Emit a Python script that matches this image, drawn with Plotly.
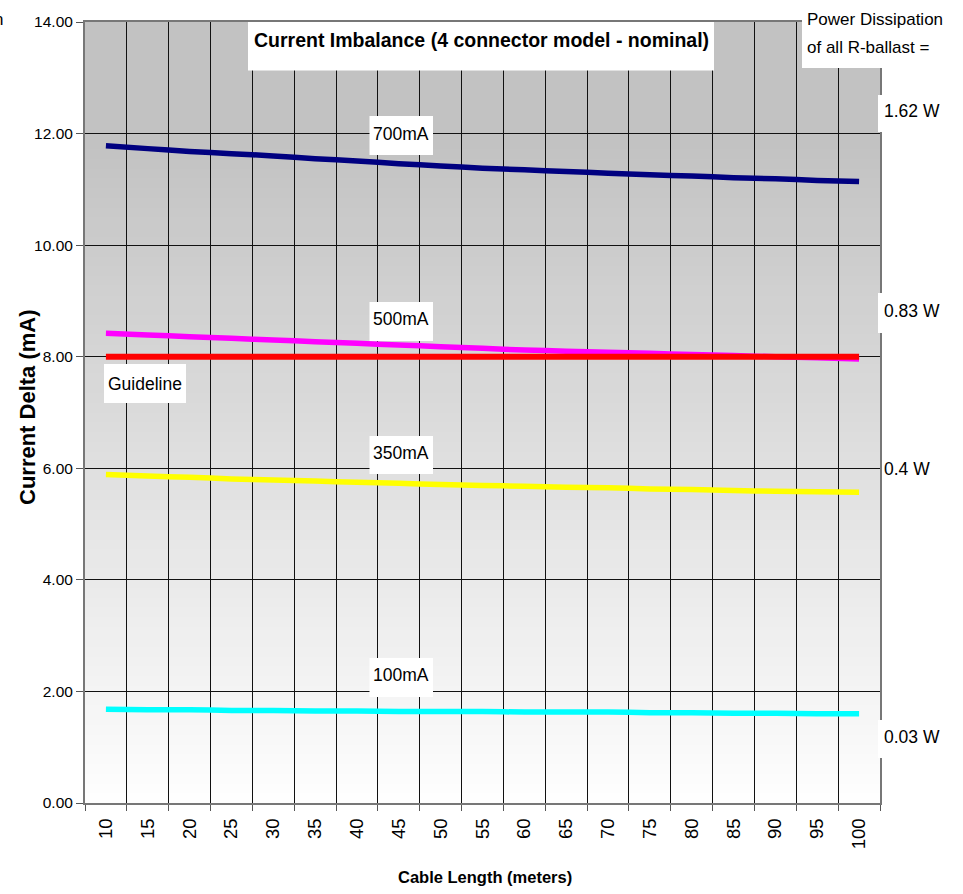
import plotly.graph_objects as go

# Cable length categories (meters)
cable_length = [10, 15, 20, 25, 30, 35, 40, 45, 50, 55, 60, 65, 70, 75, 80, 85, 90, 95, 100]

# Current delta (mA) per drive current
delta_700 = [11.78, 11.73, 11.68, 11.64, 11.60, 11.55, 11.51, 11.46, 11.42, 11.38,
             11.35, 11.32, 11.29, 11.26, 11.24, 11.21, 11.19, 11.16, 11.14]
delta_500 = [8.42, 8.39, 8.36, 8.33, 8.30, 8.27, 8.24, 8.21, 8.18, 8.15,
             8.12, 8.10, 8.08, 8.06, 8.04, 8.02, 8.00, 7.98, 7.96]
delta_350 = [5.89, 5.86, 5.84, 5.81, 5.79, 5.77, 5.75, 5.73, 5.71, 5.69,
             5.68, 5.66, 5.65, 5.63, 5.62, 5.60, 5.59, 5.58, 5.57]
delta_100 = [1.68, 1.67, 1.67, 1.66, 1.66, 1.65, 1.65, 1.64, 1.64, 1.64,
             1.63, 1.63, 1.63, 1.62, 1.62, 1.61, 1.61, 1.60, 1.60]
guideline = [8.00] * len(cable_length)

series_names = ["700mA", "500mA", "350mA", "100mA"]
power_labels = ["1.62 W", "0.83 W", "0.4 W", "0.03 W"]

y_ticks = [0, 2, 4, 6, 8, 10, 12, 14]
y_tick_text = ["0.00", "2.00", "4.00", "6.00", "8.00", "10.00", "12.00", "14.00"]

FONT = "Liberation Sans, Arial, sans-serif"

W, H = 963, 894
L, R, T, B = 85, 880, 22, 803  # plot area edges in pixels


def px(x):
    return (x - L) / (R - L)


def py(y):
    return (B - y) / (B - T)


x_cats = [str(v) for v in cable_length]

fig = go.Figure()

line_specs = [
    (delta_700, "#000080", 5.5),
    (delta_500, "#ff00ff", 5.5),
    (delta_350, "#ffff00", 5.5),
    (delta_100, "#00ffff", 5.5),
    (guideline, "#ff0000", 6),
]
for vals, color, width in line_specs:
    fig.add_trace(go.Scatter(
        x=x_cats, y=vals, mode="lines",
        line=dict(color=color, width=width, shape="spline", smoothing=0.5),
        showlegend=False, hoverinfo="skip",
    ))

shapes = []
# vertical grey-to-white gradient behind the grid
n_bands = 80
for k in range(n_bands):
    f0 = k / n_bands
    f1 = (k + 1) / n_bands
    fm = (f0 + f1) / 2
    t = min(fm / 0.85, 1.0)
    c = int(round(254 - 60 * t))
    shapes.append(dict(type="rect", xref="paper", yref="paper",
                       x0=0, x1=1, y0=f0, y1=f1 + 0.002,
                       fillcolor=f"rgb({c},{c},{c})", line=dict(width=0),
                       layer="below"))

# white boxes for the labels
white_boxes = [
    (248, 714, 22, 70.5),    # title
    (802, 950, 0, 68),       # power dissipation heading
    (878, 945, 95, 132),     # 1.62 W
    (878, 945, 293, 333),    # 0.83 W
    (878, 945, 720, 758),    # 0.03 W
    (369.5, 433, 116, 155),  # 700mA
    (369.5, 433, 302, 341),  # 500mA
    (369.5, 433, 436, 474),  # 350mA
    (369.5, 433, 658, 697),  # 100mA
    (104, 186, 364, 403),    # Guideline
]
for x0, x1, y0, y1 in white_boxes:
    shapes.append(dict(type="rect", xref="paper", yref="paper",
                       x0=px(x0), x1=px(x1), y0=py(y1), y1=py(y0),
                       fillcolor="white", line=dict(width=0), layer="above"))

annotations = []


def add_text(text, x, y, size, bold=False, xanchor="center", angle=0):
    annotations.append(dict(
        text=f"<b>{text}</b>" if bold else text,
        xref="paper", yref="paper", x=px(x), y=py(y),
        xanchor=xanchor, yanchor="middle", showarrow=False, textangle=angle,
        font=dict(family=FONT, size=size, color="black"),
    ))


add_text("Current Imbalance (4 connector model - nominal)", 481, 40, 19.5, bold=True)
add_text("Power Dissipation", 805, 20, 17, xanchor="left")
add_text("of all R-ballast =", 805, 48, 17, xanchor="left")

for label, yc in zip(power_labels, [111, 311, 469, 737]):
    add_text(label, 882, yc, 17.5, xanchor="left")

for name, yc in zip(series_names, [134, 319, 453, 675]):
    add_text(name, 401, yc, 17.5)
add_text("Guideline", 145, 384, 17.5)

add_text("n", 5, 19, 17, xanchor="right")

# axis titles
add_text("Cable Length (meters)", 485, 877, 16.5, bold=True)
add_text("Current Delta (mA)", 27, 407, 22, bold=True, angle=-90)

fig.update_layout(
    width=W, height=H,
    margin=dict(l=L, r=W - R, t=T, b=H - B, pad=0, autoexpand=False),
    paper_bgcolor="white", plot_bgcolor="white",
    shapes=shapes, annotations=annotations,
    font=dict(family=FONT, color="black"),
    xaxis=dict(
        type="category", tickson="boundaries", automargin=False,
        range=[-0.5, len(cable_length) - 0.5],
        tickangle=-90, tickfont=dict(size=18.5, family=FONT),
        ticks="outside", ticklen=6, tickcolor="#555", ticklabelstandoff=6,
        showgrid=True, gridcolor="#111", gridwidth=1,
        showline=True, linecolor="#777", linewidth=2, mirror=True,
        zeroline=False,
    ),
    yaxis=dict(
        range=[0, 14], tickvals=y_ticks, ticktext=y_tick_text, automargin=False,
        tickfont=dict(size=15.5, family=FONT),
        ticks="outside", ticklen=7, tickcolor="#555",
        showgrid=True, gridcolor="#111", gridwidth=1,
        showline=True, linecolor="#777", linewidth=2, mirror=True,
        zeroline=False,
    ),
)

fig.write_html("out.html")
